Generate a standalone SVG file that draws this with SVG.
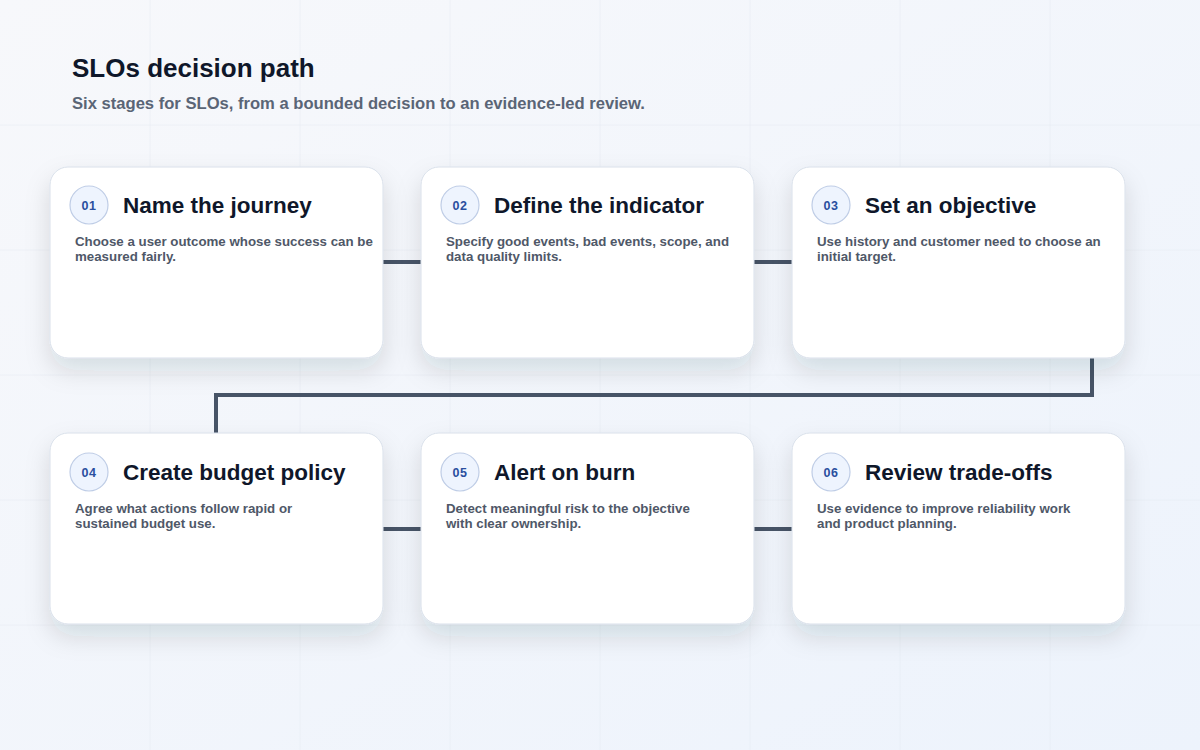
<svg xmlns="http://www.w3.org/2000/svg" width="1200" height="750" viewBox="0 0 1200 750">
  <defs>
    <linearGradient id="bg" x1="0" y1="0" x2="1" y2="1">
      <stop offset="0" stop-color="#f7f8fb"/>
      <stop offset="1" stop-color="#edf3fc"/>
    </linearGradient>
    <filter id="shadow" x="-20%" y="-20%" width="140%" height="160%">
      <feDropShadow dx="0" dy="12" stdDeviation="12" flood-color="#1e293b" flood-opacity="0.13"/>
    </filter>
    <style>
      .grid { stroke: #e3e8f0; stroke-width: 1; opacity: 0.45; }
      .card { fill: #ffffff; stroke: #d9e0ea; stroke-width: 1; }
      .badge { fill: #eef4fe; stroke: #bfcde6; stroke-width: 1.2; }
      .num { font-family: "Liberation Sans", Arial, sans-serif; font-size: 12.5px; font-weight: 700; fill: #2a4f9e; text-anchor: middle; letter-spacing: 0.6px; }
      .title { font-family: "Liberation Sans", Arial, sans-serif; font-size: 22.5px; font-weight: 700; fill: #0f172a; }
      .desc { font-family: "Liberation Sans", Arial, sans-serif; font-size: 13.3px; font-weight: 700; fill: #4f5868; }
      .conn { fill: none; stroke: #475467; stroke-width: 4; stroke-linejoin: miter; }
    </style>
  </defs>
  <rect width="1200" height="750" fill="url(#bg)"/>
  <g id="grid">
    <line class="grid" x1="150" y1="0" x2="150" y2="750"/>
    <line class="grid" x1="300" y1="0" x2="300" y2="750"/>
    <line class="grid" x1="450" y1="0" x2="450" y2="750"/>
    <line class="grid" x1="600" y1="0" x2="600" y2="750"/>
    <line class="grid" x1="750" y1="0" x2="750" y2="750"/>
    <line class="grid" x1="900" y1="0" x2="900" y2="750"/>
    <line class="grid" x1="1050" y1="0" x2="1050" y2="750"/>
    <line class="grid" x1="0" y1="125" x2="1200" y2="125"/>
    <line class="grid" x1="0" y1="250" x2="1200" y2="250"/>
    <line class="grid" x1="0" y1="375" x2="1200" y2="375"/>
    <line class="grid" x1="0" y1="500" x2="1200" y2="500"/>
    <line class="grid" x1="0" y1="625" x2="1200" y2="625"/>
  </g>
  <g id="header">
    <text x="72" y="77" font-family="Liberation Sans, Arial, sans-serif" font-size="26" font-weight="700" fill="#0f172a">SLOs decision path</text>
    <text x="72" y="109" font-family="Liberation Sans, Arial, sans-serif" font-size="16.6" font-weight="700" fill="#5a6576">Six stages for SLOs, from a bounded decision to an evidence-led review.</text>
  </g>
  <g id="connectors">
    <line class="conn" x1="383" y1="262" x2="421" y2="262"/>
    <line class="conn" x1="754" y1="262" x2="792" y2="262"/>
    <path class="conn" d="M1092 358 V395 H216 V433"/>
    <line class="conn" x1="383" y1="529" x2="421" y2="529"/>
    <line class="conn" x1="754" y1="529" x2="792" y2="529"/>
  </g>
  <g id="node1">
    <rect class="card" x="50" y="167" width="333" height="191" rx="18" filter="url(#shadow)"/>
    <circle class="badge" cx="89" cy="205" r="19"/>
    <text class="num" x="89" y="210">01</text>
    <text class="title" x="123" y="213">Name the journey</text>
    <text class="desc" x="75" y="246">Choose a user outcome whose success can be</text>
    <text class="desc" x="75" y="261">measured fairly.</text>
  </g>
  <g id="node2">
    <rect class="card" x="421" y="167" width="333" height="191" rx="18" filter="url(#shadow)"/>
    <circle class="badge" cx="460" cy="205" r="19"/>
    <text class="num" x="460" y="210">02</text>
    <text class="title" x="494" y="213">Define the indicator</text>
    <text class="desc" x="446" y="246">Specify good events, bad events, scope, and</text>
    <text class="desc" x="446" y="261">data quality limits.</text>
  </g>
  <g id="node3">
    <rect class="card" x="792" y="167" width="333" height="191" rx="18" filter="url(#shadow)"/>
    <circle class="badge" cx="831" cy="205" r="19"/>
    <text class="num" x="831" y="210">03</text>
    <text class="title" x="865" y="213">Set an objective</text>
    <text class="desc" x="817" y="246">Use history and customer need to choose an</text>
    <text class="desc" x="817" y="261">initial target.</text>
  </g>
  <g id="node4">
    <rect class="card" x="50" y="433" width="333" height="191" rx="18" filter="url(#shadow)"/>
    <circle class="badge" cx="89" cy="472" r="19"/>
    <text class="num" x="89" y="477">04</text>
    <text class="title" x="123" y="480">Create budget policy</text>
    <text class="desc" x="75" y="513">Agree what actions follow rapid or</text>
    <text class="desc" x="75" y="528">sustained budget use.</text>
  </g>
  <g id="node5">
    <rect class="card" x="421" y="433" width="333" height="191" rx="18" filter="url(#shadow)"/>
    <circle class="badge" cx="460" cy="472" r="19"/>
    <text class="num" x="460" y="477">05</text>
    <text class="title" x="494" y="480">Alert on burn</text>
    <text class="desc" x="446" y="513">Detect meaningful risk to the objective</text>
    <text class="desc" x="446" y="528">with clear ownership.</text>
  </g>
  <g id="node6">
    <rect class="card" x="792" y="433" width="333" height="191" rx="18" filter="url(#shadow)"/>
    <circle class="badge" cx="831" cy="472" r="19"/>
    <text class="num" x="831" y="477">06</text>
    <text class="title" x="865" y="480">Review trade-offs</text>
    <text class="desc" x="817" y="513">Use evidence to improve reliability work</text>
    <text class="desc" x="817" y="528">and product planning.</text>
  </g>
</svg>
